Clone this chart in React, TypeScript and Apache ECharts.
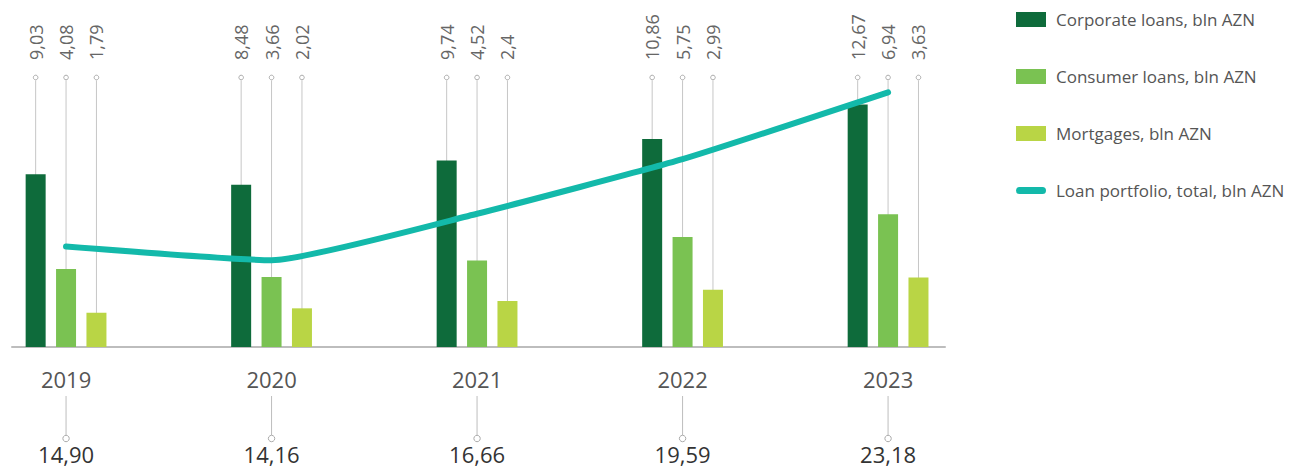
import React, { useEffect, useRef } from "react";
import * as echarts from "echarts";

const YEARS = [2019, 2020, 2021, 2022, 2023];
const CORPORATE = [9.03, 8.48, 9.74, 10.86, 12.67];
const CONSUMER = [4.08, 3.66, 4.52, 5.75, 6.94];
const MORTGAGES = [1.79, 2.02, 2.4, 2.99, 3.63];
const TOTAL = [14.9, 14.16, 16.66, 19.59, 23.18];

const NAMES = [
  "Corporate loans, bln AZN",
  "Consumer loans, bln AZN",
  "Mortgages, bln AZN",
  "Loan portfolio, total, bln AZN",
];
const COLORS = ["#0e6b3b", "#7ac252", "#b9d545", "#13b9aa"];

const BAR_W = 20;
const BAR_GAP = 0.52;
const STEP = BAR_W * (1 + BAR_GAP);
const FONT = "'Open Sans', sans-serif";
const CAPSULE =
  "path://M0,0 M30,15 M3.5,4 L26.5,4 A3.5,3.5 0 0 1 26.5,11 L3.5,11 A3.5,3.5 0 0 1 3.5,4 Z";

const fmt = (v: number) => String(v).replace(".", ",");
const fmt2 = (v: number) => v.toFixed(2).replace(".", ",");

export default function App() {
  const ref = useRef<HTMLDivElement>(null);
  useEffect(() => {
    document.body.style.margin = "0";
    const chart = echarts.init(ref.current!, null, { renderer: "svg" });
    const barSeries = [CORPORATE, CONSUMER, MORTGAGES].map((arr, k) => ({
      name: NAMES[k],
      type: "bar",
      data: arr.map((v, i) => [i, v]),
      barWidth: BAR_W,
      barGap: BAR_GAP * 100 + "%",
      itemStyle: { color: COLORS[k] },
      z: 2,
    }));
    chart.setOption({
      animation: false,
      textStyle: { fontFamily: FONT },
      grid: { left: 12, right: 344, top: 79, bottom: 123 },
      legend: {
        orient: "vertical",
        left: 1011,
        top: 6,
        itemWidth: 30,
        itemHeight: 15,
        itemGap: 40,
        data: [
          { name: NAMES[0], icon: "rect" },
          { name: NAMES[1], icon: "rect" },
          { name: NAMES[2], icon: "rect" },
          { name: NAMES[3], icon: CAPSULE, itemStyle: { color: COLORS[3] } },
        ],
        textStyle: { fontSize: 17, color: "#555", fontFamily: FONT, padding: [0, 0, 0, 5] },
      },
      xAxis: {
        type: "value",
        min: -0.263,
        max: 4.277,
        axisLine: { show: true, onZero: false, lineStyle: { color: "#bdbdbd", width: 2 } },
        axisTick: { show: false },
        axisLabel: { show: false },
        splitLine: { show: false },
      },
      yAxis: [
        { type: "value", min: 0, max: 14, show: false, splitLine: { show: false } },
        { type: "value", min: 9.5, max: 23.9, show: false, splitLine: { show: false } },
      ],
      series: [
        {
          type: "custom",
          name: "leaders",
          clip: false,
          z: 1,
          silent: true,
          encode: { x: 0, y: 1 },
          data: YEARS.map((_, i) => [i, CORPORATE[i], CONSUMER[i], MORTGAGES[i]]),
          renderItem: (params: any, api: any) => {
            const i = api.value(0);
            const c = api.coord([i, 0]);
            const top = params.coordSys.y;
            const children: any[] = [];
            for (let k = 0; k < 3; k++) {
              const x = c[0] + (k - 1) * STEP;
              children.push({
                type: "line",
                shape: { x1: x, y1: top + 1.5, x2: x, y2: c[1] },
                style: { stroke: "#c6c6c6", lineWidth: 1 },
              });
              children.push({
                type: "circle",
                shape: { cx: x, cy: top - 1.5, r: 2.3 },
                style: { stroke: "#aaaaaa", fill: "#fff", lineWidth: 1 },
              });
              children.push({
                type: "text",
                x: x,
                y: top - 19,
                rotation: Math.PI / 2,
                style: {
                  text: fmt(api.value(k + 1)),
                  align: "left",
                  verticalAlign: "middle",
                  fontSize: 18,
                  fontFamily: FONT,
                  fill: "#666",
                },
              });
            }
            return { type: "group", children };
          },
        },
        ...barSeries,
        {
          name: NAMES[3],
          type: "line",
          yAxisIndex: 1,
          data: TOTAL.map((v, i) => [i, v]),
          smooth: 0.15,
          symbol: "none",
          lineStyle: { color: COLORS[3], width: 6, cap: "round", join: "round" },
          itemStyle: { color: COLORS[3] },
          z: 5,
        },
        {
          type: "custom",
          name: "bottom",
          clip: false,
          silent: true,
          z: 1,
          encode: { x: 0, y: 1 },
          yAxisIndex: 1,
          data: TOTAL.map((v, i) => [i, v]),
          renderItem: (params: any, api: any) => {
            const i = api.value(0);
            const x = api.coord([i, 9.5])[0];
            const base = params.coordSys.y + params.coordSys.height;
            return {
              type: "group",
              children: [
                {
                  type: "text",
                  x,
                  y: base + 32,
                  style: {
                    text: String(YEARS[i]),
                    align: "center",
                    verticalAlign: "middle",
                    fontSize: 22,
                    fontFamily: FONT,
                    fill: "#555",
                  },
                },
                {
                  type: "line",
                  shape: { x1: x, y1: base + 49, x2: x, y2: base + 88 },
                  style: { stroke: "#bdbdbd", lineWidth: 1 },
                },
                {
                  type: "circle",
                  shape: { cx: x, cy: base + 91.5, r: 3.2 },
                  style: { stroke: "#aaaaaa", fill: "#fff", lineWidth: 1 },
                },
                {
                  type: "text",
                  x,
                  y: base + 107,
                  style: {
                    text: fmt2(api.value(1)),
                    align: "center",
                    verticalAlign: "middle",
                    fontSize: 22,
                    fontFamily: FONT,
                    fill: "#333",
                  },
                },
              ],
            };
          },
        },
      ],
    });
    return () => chart.dispose();
  }, []);
  return <div ref={ref} style={{ width: 1289, height: 470 }} />;
}
